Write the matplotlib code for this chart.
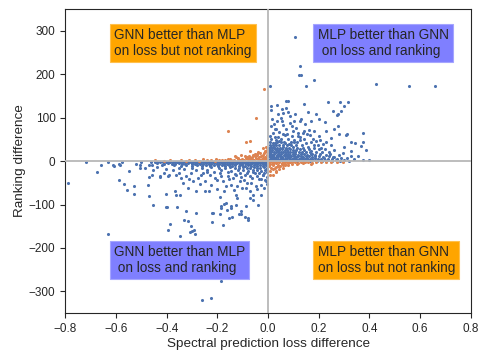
import matplotlib
matplotlib.use("Agg")
import matplotlib.pyplot as plt
import seaborn as sns

sns.set_style("ticks")
plt.rcParams['font.family'] = ['Liberation Sans', 'DejaVu Sans']

# blue: same sign (MLP better on both / GNN better on both)
blue_q1_outliers = [(0.106, 286), (0.127, 219), (0.12, 198), (0.13, 198), (0.149, 173), (0.182, 186),
                    (0.006, 173), (0.427, 177), (0.557, 174), (0.66, 174),
                    (0.285, 135), (0.314, 135), (0.3, 126), (0.258, 115), (0.286, 115), (0.273, 106),
                    (0.274, 81), (0.261, 75), (0.28, 62), (0.311, 62), (0.374, 64), (0.25, 53),
                    (0.328, 44), (0.343, 42), (0.373, 43), (0.368, 34), (0.387, 25), (0.4, 3),
                    (0.3, 32), (0.261, 25), (0.295, 19), (0.327, 24), (0.327, 11), (0.353, 12), (0.374, 3),
                    (0.01, 127), (0.012, 118), (0.036, 130), (0.069, 138), (0.079, 138), (0.056, 121),
                    (0.07, 122), (0.057, 110), (0.079, 114), (0.085, 105), (0.107, 108), (0.141, 132),
                    (0.157, 114), (0.128, 98), (0.124, 92), (0.145, 85), (0.17, 92), (0.19, 108),
                    (0.202, 98), (0.236, 136), (0.277, 108), (0.036, 92), (0.054, 92), (0.01, 81),
                    (0.028, 75), (0.098, 69), (0.118, 65), (0.137, 65), (0.16, 72), (0.18, 69),
                    (0.23, 69), (0.309, 61)]

blue_q1_cluster = [
    (0.004, 2), (0.013, 1), (0.021, 3), (0.03, 2), (0.038, 1), (0.047, 3), (0.055, 2), (0.064, 1),
    (0.072, 2), (0.081, 3), (0.089, 1), (0.098, 2), (0.106, 3), (0.115, 1), (0.123, 2), (0.132, 2),
    (0.14, 1), (0.149, 3), (0.157, 2), (0.166, 1), (0.175, 2), (0.184, 3), (0.193, 1), (0.203, 2),
    (0.214, 1), (0.226, 2), (0.238, 3), (0.251, 1), (0.266, 2), (0.283, 1), (0.301, 2), (0.318, 1),
    (0.006, 6), (0.015, 5), (0.024, 7), (0.033, 6), (0.041, 5), (0.05, 7), (0.059, 6), (0.067, 5),
    (0.076, 7), (0.085, 6), (0.093, 5), (0.102, 7), (0.111, 6), (0.12, 5), (0.129, 7), (0.137, 6),
    (0.146, 5), (0.155, 7), (0.164, 6), (0.174, 5), (0.185, 7), (0.196, 6), (0.208, 5), (0.221, 7),
    (0.236, 6), (0.252, 5), (0.27, 6),
    (0.003, 11), (0.012, 10), (0.021, 12), (0.03, 10), (0.039, 11), (0.048, 12), (0.056, 10),
    (0.065, 11), (0.074, 12), (0.083, 10), (0.092, 11), (0.101, 12), (0.11, 10), (0.119, 11),
    (0.128, 12), (0.138, 10), (0.149, 11), (0.16, 12), (0.172, 10), (0.186, 11), (0.201, 12),
    (0.218, 10), (0.241, 11), (0.262, 9),
    (0.007, 16), (0.016, 15), (0.025, 17), (0.034, 15), (0.043, 16), (0.052, 17), (0.061, 15),
    (0.07, 16), (0.079, 17), (0.088, 15), (0.097, 16), (0.107, 17), (0.117, 15), (0.128, 16),
    (0.14, 17), (0.153, 15), (0.168, 16), (0.184, 15), (0.205, 17), (0.229, 14),
    (0.004, 21), (0.013, 20), (0.022, 22), (0.031, 21), (0.04, 20), (0.049, 22), (0.058, 21),
    (0.067, 20), (0.077, 22), (0.087, 21), (0.097, 20), (0.108, 22), (0.12, 21), (0.133, 20),
    (0.148, 22), (0.165, 21), (0.19, 20),
    (0.008, 26), (0.017, 25), (0.026, 27), (0.035, 26), (0.045, 25), (0.055, 27), (0.065, 26),
    (0.075, 25), (0.086, 27), (0.098, 26), (0.111, 25), (0.126, 27), (0.143, 26), (0.171, 24), (0.2, 27),
    (0.005, 31), (0.015, 30), (0.025, 32), (0.036, 31), (0.047, 30), (0.059, 32), (0.071, 31),
    (0.084, 30), (0.099, 32), (0.116, 31), (0.137, 30), (0.158, 33),
    (0.009, 37), (0.02, 36), (0.032, 38), (0.045, 36), (0.059, 37), (0.074, 38), (0.091, 36),
    (0.11, 38), (0.132, 37), (0.18, 36),
    (0.006, 43), (0.019, 42), (0.034, 44), (0.05, 43), (0.068, 42), (0.089, 44), (0.113, 43),
    (0.15, 41), (0.215, 40),
    (0.012, 50), (0.03, 49), (0.052, 51), (0.077, 50), (0.104, 48), (0.14, 52), (0.19, 47),
    (0.008, 58), (0.04, 56), (0.066, 59), (0.095, 57), (0.125, 55), (0.165, 60),
    (0.02, 64), (0.045, 68), (0.075, 63), (0.11, 76), (0.06, 84), (0.085, 88), (0.015, 97),
    (0.14, 70), (0.2, 58), (0.23, 45), (0.25, 36), (0.21, 30), (0.24, 22), (0.28, 15),
    (0.31, 8), (0.34, 5), (0.225, 90), (0.05, 100), (0.095, 80),
    (0.012, 33), (0.028, 41), (0.043, 47), (0.062, 45), (0.083, 40), (0.102, 45), (0.124, 48),
    (0.17, 44), (0.16, 28), (0.182, 31), (0.196, 38), (0.173, 17), (0.213, 21), (0.226, 29),
    (0.245, 16), (0.258, 9), (0.288, 7), (0.026, 55), (0.058, 62), (0.033, 73), (0.118, 58),
    (0.152, 62), (0.023, 86), (0.072, 73), (0.102, 92), (0.04, 109), (0.176, 52), (0.205, 48)]

blue_q3_scatter = [(-0.72, -2), (-0.79, -50), (-0.674, -24), (-0.612, -10), (-0.608, -12), (-0.59, -6),
                   (-0.585, -10), (-0.575, -2), (-0.59, -43), (-0.57, -52), (-0.557, -67), (-0.53, -58),
                   (-0.528, -75), (-0.507, -8), (-0.507, -15), (-0.5, -2), (-0.487, -17), (-0.471, -8),
                   (-0.458, -9), (-0.452, -21), (-0.473, -54), (-0.47, -36), (-0.457, -33), (-0.428, -37),
                   (-0.47, -81), (-0.453, -100), (-0.402, -75), (-0.4, -106), (-0.439, -5), (-0.418, -9),
                   (-0.404, -19), (-0.394, -35), (-0.63, -168), (-0.185, -277), (-0.26, -321), (-0.224, -316),
                   (-0.393, -159), (-0.385, -144), (-0.36, -105), (-0.333, -135), (-0.323, -115),
                   (-0.314, -138), (-0.306, -150), (-0.3, -162), (-0.291, -159), (-0.307, -164),
                   (-0.283, -119), (-0.402, -105), (-0.346, -172), (-0.289, -168), (-0.223, -119),
                   (-0.222, -140), (-0.185, -104), (-0.191, -122), (-0.172, -98), (-0.163, -112),
                   (-0.176, -146), (-0.155, -131), (-0.141, -129), (-0.145, -109), (-0.123, -85),
                   (-0.115, -122), (-0.105, -122), (-0.086, -104), (-0.093, -129), (-0.08, -135),
                   (-0.073, -85), (-0.039, -102), (-0.125, -100), (-0.369, -69), (-0.362, -78), (-0.349, -78),
                   (-0.425, -35), (-0.391, -31), (-0.376, -21), (-0.352, -27), (-0.33, -19), (-0.323, -35),
                   (-0.336, -50), (-0.303, -27), (-0.297, -46), (-0.277, -38), (-0.27, -52), (-0.257, -27),
                   (-0.247, -45), (-0.231, -31), (-0.224, -54), (-0.211, -38), (-0.202, -65), (-0.191, -27),
                   (-0.178, -46), (-0.172, -69), (-0.159, -35), (-0.145, -54), (-0.132, -29), (-0.126, -77),
                   (-0.112, -46), (-0.102, -62), (-0.093, -31), (-0.084, -50), (-0.073, -69), (-0.062, -38),
                   (-0.053, -27), (-0.047, -58), (-0.034, -42), (-0.021, -31), (-0.01, -46), (-0.165, -96),
                   (-0.106, -115), (-0.08, -131), (-0.145, -104), (-0.187, -108), (-0.218, -119),
                   (-0.25, -69), (-0.234, -68), (-0.286, -69), (-0.316, -62), (-0.362, -31), (-0.343, -38),
                   (-0.412, -27),
                   (-0.283, -20), (-0.266, -33), (-0.242, -24), (-0.214, -25), (-0.2, -44), (-0.186, -35),
                   (-0.165, -57), (-0.153, -42), (-0.138, -38), (-0.121, -57), (-0.108, -36), (-0.095, -43),
                   (-0.088, -61), (-0.066, -50), (-0.058, -78), (-0.044, -65), (-0.029, -55), (-0.017, -62),
                   (-0.005, -52), (-0.028, -78), (-0.06, -90), (-0.136, -66), (-0.19, -82), (-0.31, -41),
                   (-0.35, -15), (-0.44, -14), (-0.52, -6), (-0.55, -22), (-0.63, -3), (-0.66, -8)]

blue_q3_band = [
    (-0.462, -2), (-0.448, -1), (-0.437, -3), (-0.425, -2), (-0.414, -1), (-0.404, -3), (-0.395, -2),
    (-0.386, -1), (-0.377, -3), (-0.369, -2), (-0.361, -1), (-0.353, -3), (-0.345, -2), (-0.337, -1),
    (-0.329, -3), (-0.321, -2), (-0.313, -1), (-0.305, -3), (-0.297, -2), (-0.289, -1), (-0.281, -3),
    (-0.273, -2), (-0.265, -1), (-0.257, -3), (-0.249, -2), (-0.241, -1), (-0.233, -3), (-0.225, -2),
    (-0.217, -1), (-0.209, -3), (-0.201, -2), (-0.193, -1), (-0.185, -3), (-0.177, -2), (-0.169, -1),
    (-0.161, -3), (-0.153, -2), (-0.145, -1), (-0.137, -3), (-0.129, -2), (-0.121, -1), (-0.113, -3),
    (-0.105, -2), (-0.097, -1), (-0.089, -3), (-0.081, -2), (-0.073, -1), (-0.065, -3), (-0.057, -2),
    (-0.049, -1), (-0.041, -3), (-0.033, -2), (-0.025, -1), (-0.017, -3), (-0.009, -2), (-0.003, -1),
    (-0.41, -6), (-0.394, -5), (-0.38, -7), (-0.366, -6), (-0.352, -5), (-0.339, -7), (-0.326, -6),
    (-0.314, -5), (-0.302, -7), (-0.29, -6), (-0.279, -5), (-0.268, -7), (-0.257, -6), (-0.246, -5),
    (-0.235, -7), (-0.224, -6), (-0.213, -5), (-0.202, -7), (-0.192, -6), (-0.182, -5), (-0.172, -7),
    (-0.162, -6), (-0.152, -5), (-0.142, -7), (-0.132, -6), (-0.122, -5), (-0.112, -7), (-0.102, -6),
    (-0.092, -5), (-0.082, -7), (-0.072, -6), (-0.062, -5), (-0.052, -7), (-0.042, -6), (-0.032, -5),
    (-0.022, -7), (-0.012, -6), (-0.004, -5),
    (-0.37, -10), (-0.345, -11), (-0.322, -9), (-0.3, -11), (-0.28, -10), (-0.262, -12), (-0.245, -10),
    (-0.228, -11), (-0.212, -9), (-0.197, -11), (-0.182, -10), (-0.168, -12), (-0.155, -10),
    (-0.142, -11), (-0.129, -9), (-0.116, -11), (-0.104, -10), (-0.092, -12), (-0.08, -10),
    (-0.068, -11), (-0.056, -9), (-0.044, -11), (-0.032, -10), (-0.02, -12), (-0.008, -10),
    (-0.3, -15), (-0.26, -16), (-0.225, -14), (-0.195, -16), (-0.17, -15), (-0.15, -14), (-0.132, -16),
    (-0.116, -15), (-0.1, -14), (-0.085, -16), (-0.071, -15), (-0.057, -14), (-0.043, -16),
    (-0.03, -15), (-0.017, -14), (-0.005, -16),
    (-0.24, -21), (-0.185, -20), (-0.148, -22), (-0.12, -21), (-0.097, -20), (-0.078, -22),
    (-0.06, -21), (-0.043, -20), (-0.027, -22), (-0.012, -21), (-0.003, -19),
    (-0.16, -26), (-0.11, -28), (-0.082, -27), (-0.058, -26), (-0.036, -28), (-0.016, -27), (-0.005, -25),
    (-0.125, -33), (-0.07, -35), (-0.042, -34), (-0.022, -33), (-0.006, -36),
    (-0.028, -41), (-0.012, -43)]

# orange: opposite sign (better on loss but not ranking)
orange_q2 = [
    (-0.448, 2), (-0.41, 1), (-0.385, 2), (-0.342, 2), (-0.325, 1), (-0.31, 3), (-0.29, 2), (-0.272, 1),
    (-0.257, 4), (-0.24, 2), (-0.225, 3), (-0.21, 1), (-0.204, 5), (-0.195, 2), (-0.182, 3), (-0.17, 2),
    (-0.16, 4), (-0.152, 6), (-0.145, 2), (-0.135, 3), (-0.126, 9), (-0.12, 4), (-0.112, 2), (-0.104, 5),
    (-0.096, 3), (-0.088, 7), (-0.08, 4), (-0.072, 2), (-0.064, 6), (-0.056, 3), (-0.048, 8), (-0.04, 4),
    (-0.032, 2), (-0.024, 6), (-0.016, 3), (-0.008, 5), (-0.003, 2),
    (-0.085, 10), (-0.075, 12), (-0.065, 9), (-0.058, 14), (-0.05, 11), (-0.042, 13), (-0.035, 9),
    (-0.028, 12), (-0.02, 15), (-0.013, 10), (-0.006, 13), (-0.045, 17), (-0.03, 18), (-0.015, 19),
    (-0.004, 20), (-0.022, 8), (-0.01, 7), (-0.07, 7), (-0.106, 14), (-0.129, 11), (-0.093, 12),
    (-0.118, 8),
    (-0.018, 165), (-0.047, 100), (-0.159, 69), (-0.088, 45), (-0.07, 47), (-0.073, 23), (-0.04, 21),
    (-0.053, 17), (-0.02, 31), (-0.01, 32), (-0.005, 26), (-0.012, 24)]

orange_q4 = [
    (0.004, -2), (0.014, -3), (0.024, -1), (0.034, -3), (0.044, -2), (0.054, -4), (0.064, -2),
    (0.074, -3), (0.085, -1), (0.096, -3), (0.107, -2), (0.119, -4), (0.131, -2), (0.144, -3),
    (0.158, -2), (0.173, -4), (0.19, -2), (0.208, -3), (0.227, -2), (0.248, -3), (0.27, -2), (0.295, -3),
    (0.008, -6), (0.019, -7), (0.03, -5), (0.041, -8), (0.053, -6), (0.066, -7), (0.08, -5),
    (0.096, -7), (0.115, -6), (0.138, -5), (0.17, -6),
    (0.005, -11), (0.018, -10), (0.032, -13), (0.046, -11), (0.06, -9), (0.08, -10),
    (0.065, -8), (0.019, -19), (0.006, -31), (0.032, -25), (0.045, -12), (0.032, -23), (0.006, -22),
    (0.058, -15), (0.019, -31), (0.039, -12), (0.012, -16), (0.026, -17), (0.042, -19)]

blue_pts = blue_q1_outliers + blue_q1_cluster + blue_q3_scatter + blue_q3_band
orange_pts = orange_q2 + orange_q4
blue_x, blue_y = zip(*blue_pts)
orange_x, orange_y = zip(*orange_pts)

fig, ax = plt.subplots(figsize=(4.8, 3.51), dpi=100)
fig.subplots_adjust(left=0.136, right=0.981, top=0.974, bottom=0.108)

ax.scatter(blue_x, blue_y, s=5, color='#4C72B0', linewidths=0, zorder=2)
ax.scatter(orange_x, orange_y, s=5, color='#DD8452', linewidths=0, zorder=2)
ax.axhline(0, color='#b8b8b8', lw=1.3, zorder=3)
ax.axvline(0, color='#b8b8b8', lw=1.3, zorder=3)

ax.set_xlim(-0.8, 0.8)
ax.set_ylim(-350, 350)
ax.set_xticks([-0.8, -0.6, -0.4, -0.2, 0.0, 0.2, 0.4, 0.6, 0.8])
ax.set_yticks([-300, -200, -100, 0, 100, 200, 300])
ax.tick_params(labelsize=8.5)
ax.set_xlabel('Spectral prediction loss difference', fontsize=9.7, labelpad=2)
ax.set_ylabel('Ranking difference', fontsize=9.7, labelpad=2)
for s in ax.spines.values():
    s.set_visible(True)

orange_box = dict(boxstyle='square,pad=0.3', fc='#FFA500', ec='#FFC04D', lw=0.8)
blue_box = dict(boxstyle='square,pad=0.3', fc='#7F7FFF', ec='#A5A5FF', lw=0.8)
ax.text(-0.606, 307, 'GNN better than MLP\non loss but not ranking', fontsize=9.8,
        va='top', ha='left', color='#262626', bbox=orange_box, zorder=4)
ax.text(0.195, 307, 'MLP better than GNN\n on loss and ranking', fontsize=9.8,
        va='top', ha='left', color='#262626', bbox=blue_box, zorder=4)
ax.text(-0.608, -193, 'GNN better than MLP\n on loss and ranking', fontsize=9.8,
        va='top', ha='left', color='#262626', bbox=blue_box, zorder=4)
ax.text(0.195, -193, 'MLP better than GNN\non loss but not ranking', fontsize=9.8,
        va='top', ha='left', color='#262626', bbox=orange_box, zorder=4)

plt.savefig('out.png', dpi=100)
